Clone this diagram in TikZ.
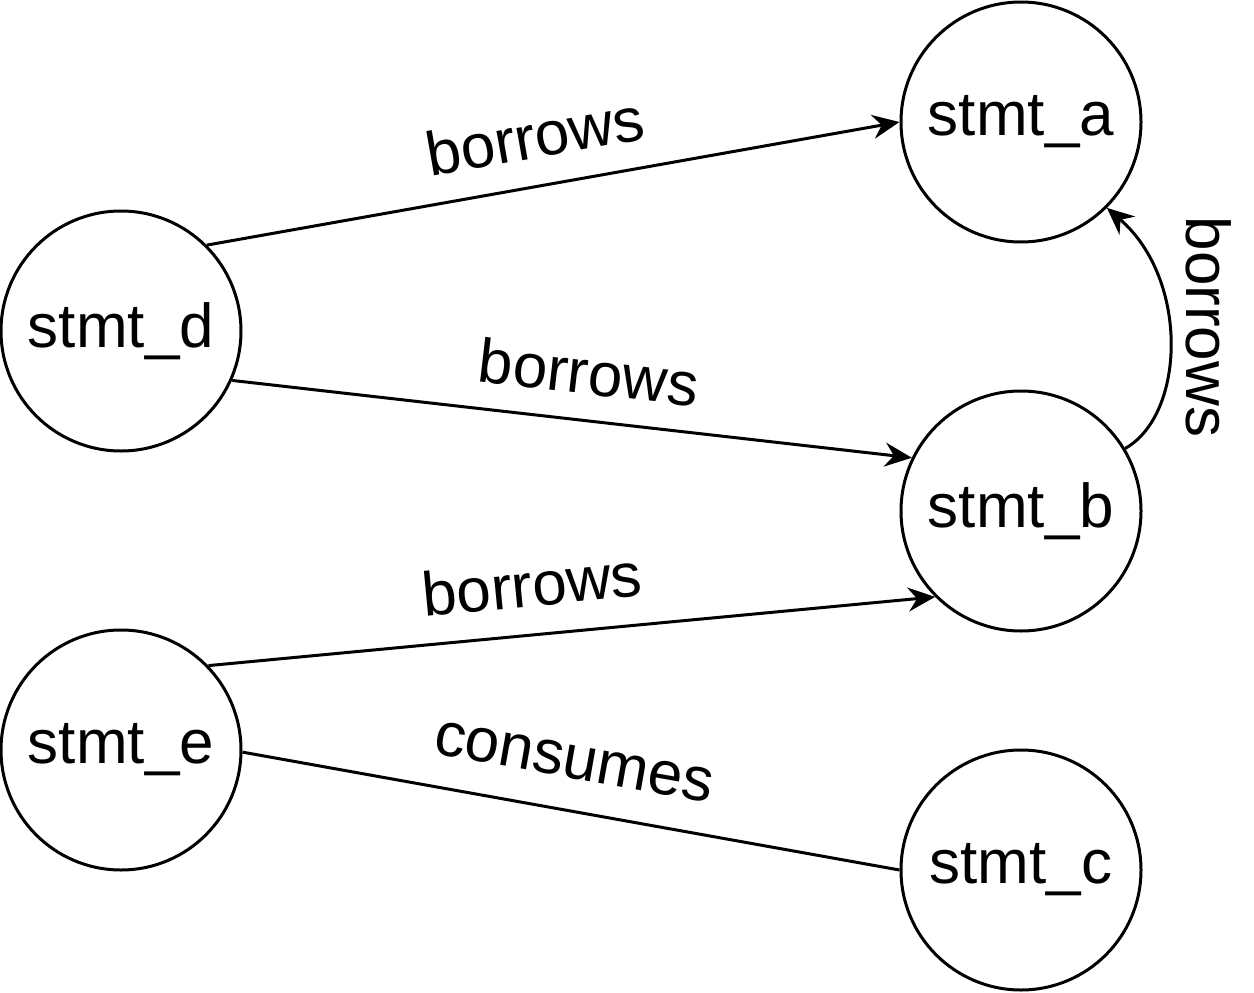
\documentclass[tikz,border=0pt]{standalone}
\usepackage{fontspec}
\setmainfont{Liberation Sans}
\usetikzlibrary{arrows.meta}
\begin{document}
\begin{tikzpicture}[x=1pt,y=-1pt,
  stmtnode/.style={circle, draw=black, line width=3pt, minimum size=240pt, inner sep=0pt, font=\fontsize{62}{72}\selectfont},
  conn/.style={line width=3pt, draw=black},
  arr/.style={conn, -{Stealth[length=27pt, width=24pt, inset=9pt]}},
  lbl/.style={font=\fontsize{62}{72}\selectfont, inner sep=0pt}]
\useasboundingbox (0,0) rectangle (1254,993);
\node[stmtnode] (a) at (1021,122) {stmt\_a};
\node[stmtnode] (b) at (1021,511) {stmt\_b};
\node[stmtnode] (c) at (1021,870) {stmt\_c};
\node[stmtnode] (d) at (121,331) {stmt\_d};
\node[stmtnode] (e) at (121,750) {stmt\_e};
\draw[arr] (d.45) -- (a.180);
\draw[arr] (d.-24) -- (b.154);
\draw[arr] (e.44) -- (b.225);
\draw[conn] (e.-1) -- (c.180);
\draw[arr] (b.31) .. controls (1185,415) and (1190,280) .. (a.-45);
\node[lbl, rotate=10] (l1) at (535,136) {borrows};
\node[lbl, rotate=-6.6] (l2) at (589,372) {borrows};
\node[lbl, rotate=5.5] (l3) at (532,584) {borrows};
\node[lbl, rotate=-10] (l4) at (574,762) {consumes};
\node[lbl, rotate=-90] (l5) at (1209,327) {borrows};
\end{tikzpicture}
\end{document}
